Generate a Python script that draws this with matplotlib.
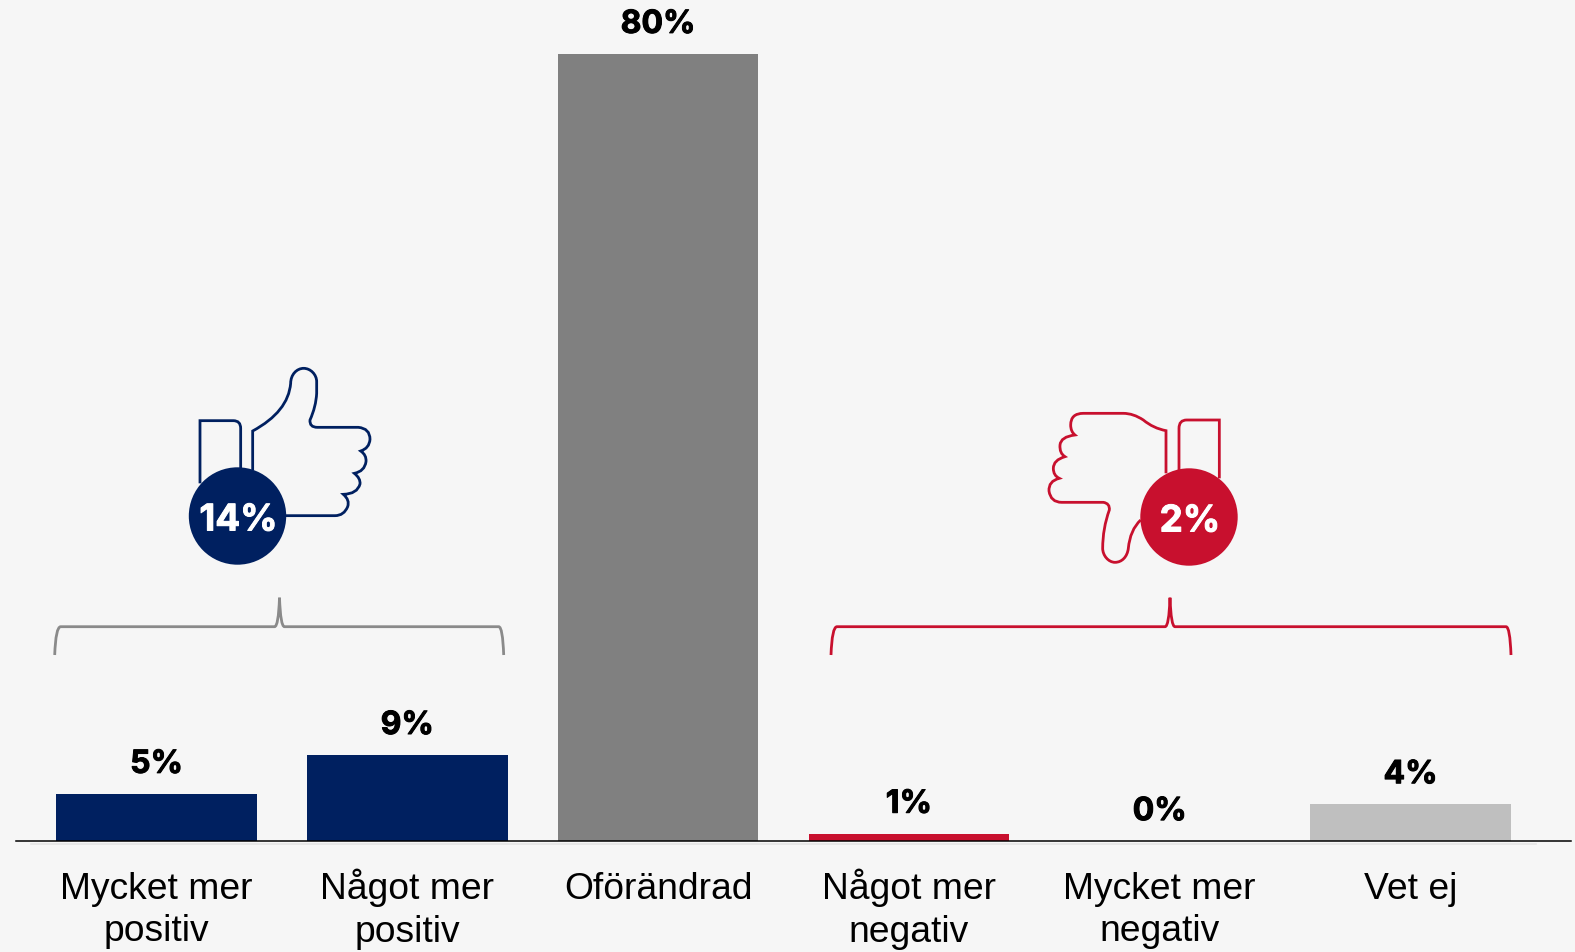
import matplotlib
matplotlib.use('Agg')
import matplotlib.pyplot as plt
import matplotlib.patheffects as pe
from matplotlib.path import Path
from matplotlib.patches import PathPatch, Circle

# Data
categories = ['Mycket mer\npositiv', 'Något mer\npositiv', 'Oförändrad',
              'Något mer\nnegativ', 'Mycket mer\nnegativ', 'Vet ej']
values = [4.8, 8.75, 80, 0.75, 0, 3.75]
value_labels = ['5%', '9%', '80%', '1%', '0%', '4%']
bar_colors = ['#002060', '#002060', '#808080', '#C8102E', '#C8102E', '#BFBFBF']
positive_total = '14%'
negative_total = '2%'

NAVY = '#002060'
RED = '#C8102E'
BG = '#F6F6F6'
W, H = 1575, 952
STEP = 250.8
FONT = ['Liberation Sans', 'DejaVu Sans']
BOLD_FONT = ['Inter', 'DejaVu Sans']

M, L, Q, B = Path.MOVETO, Path.LINETO, Path.CURVE3, Path.CURVE4


def zoomed(points, ox, oy):
    verts = [(ox + x / 3, oy + y / 3) for x, y, _ in points]
    codes = [c for _, _, c in points]
    return Path(verts, codes)


thumb_box_up = [(90, 400, M), (90, 212, L), (190, 212, L), (212, 212, Q), (212, 235, Q), (212, 355, L)]
thumb_hand_up = [(248, 360, M), (248, 243, L), (355, 185, Q), (362, 100, Q),
                 (362, 74, B), (380, 55, B), (401, 55, B), (422, 55, B), (440, 74, B), (440, 95, B),
                 (440, 130, L), (438, 170, Q), (420, 210, Q), (418, 232, Q), (442, 232, Q),
                 (565, 232, L), (600, 235, Q), (600, 268, Q), (598, 295, Q), (572, 303, Q),
                 (590, 315, Q), (588, 335, Q), (584, 364, Q), (553, 370, Q),
                 (572, 385, Q), (570, 402, Q), (562, 432, Q), (520, 433, Q),
                 (540, 450, Q), (533, 470, Q), (522, 497, Q), (495, 497, Q), (348, 497, L)]
thumb_box_down = [(447, 225, M), (447, 100, L), (447, 75, Q), (470, 75, Q), (568, 75, L), (568, 250, L)]
thumb_hand_down = [(408, 235, M), (408, 107, L), (370, 100, Q), (340, 75, Q), (310, 55, Q), (280, 55, Q),
                   (160, 55, L), (122, 55, Q), (122, 90, Q), (122, 110, Q), (135, 120, Q),
                   (92, 125, Q), (90, 150, Q), (88, 175, Q), (105, 185, Q),
                   (70, 195, Q), (70, 220, Q), (70, 242, Q), (88, 250, Q),
                   (55, 258, Q), (57, 288, Q), (62, 322, Q), (95, 322, Q),
                   (220, 322, L), (240, 325, Q), (238, 345, Q), (218, 400, Q), (218, 460, Q),
                   (218, 481, B), (235, 502, B), (255, 502, B), (276, 502, B), (292, 485, B), (295, 460, B),
                   (300, 405, Q), (332, 375, Q)]


def brace(x0, xm, x1):
    y_low, y_mid, y_top = 655, 626.7, 597.7
    return Path([(x0, y_low), (x0 + 1, y_mid), (x0 + 6, y_mid), (xm - 5, y_mid), (xm - 1, y_mid),
                 (xm, y_top), (xm + 1, y_mid), (xm + 5, y_mid), (x1 - 5, y_mid), (x1 - 1, y_mid), (x1, y_low)],
                [M, Q, Q, L, Q, Q, Q, Q, L, Q, Q])


fig = plt.figure(figsize=(W / 100, H / 100), dpi=100, facecolor=BG)

# bars fill the whole figure, limits chosen so that 0 sits on the baseline
ax = fig.add_axes([0, 0, 1, 1], facecolor=BG)
# set_position resets the ticks, so it has to come before the tick labels
ax.spines['bottom'].set_position(('data', 0))
x = list(range(len(categories)))
bars = ax.bar(x, values, width=0.8, color=bar_colors, linewidth=0)
ax.set_xlim(-156.5 / STEP, (W - 156.5) / STEP)
ax.set_ylim(-(H - 841) / 9.84, 841 / 9.84)
labels = ax.bar_label(bars, labels=value_labels, padding=10, fontsize=23, fontweight='bold',
                      family=BOLD_FONT, color='black')
for t in labels:
    # the reference digits are a bit heavier than Inter Bold
    t.set_path_effects([pe.withStroke(linewidth=0.7, foreground='black')])
ax.set_xticks(x)
ax.set_xticklabels(categories, fontsize=26.8, family=FONT, linespacing=1.29, color='black', va='top')
ax.tick_params(axis='x', length=0, pad=22)
# the ring on the å makes those labels start lower
for tick, name in zip(ax.xaxis.get_major_ticks(), categories):
    if 'å' in name:
        tick.set_pad(20)
ax.set_yticks([])
for side in ['top', 'left', 'right']:
    ax.spines[side].set_visible(False)
ax.spines['bottom'].set_bounds((16 - 156.5) / STEP, (1571 - 156.5) / STEP)
ax.spines['bottom'].set_linewidth(1.1)
ax.spines['bottom'].set_color('black')

# overlay in figure pixels for the icons and braces
over = fig.add_axes([0, 0, 1, 1])
over.set_xlim(0, W)
over.set_ylim(H, 0)
over.axis('off')
over.patch.set_alpha(0)

over.plot([31, 1536], [843.5, 843.5], color='#E4E4E4', lw=1.2, zorder=0)

for pts, ox, oy, col in [(thumb_box_up, 170, 350, NAVY), (thumb_hand_up, 170, 350, NAVY),
                         (thumb_box_down, 1030, 395, RED), (thumb_hand_down, 1030, 395, RED)]:
    over.add_patch(PathPatch(zoomed(pts, ox, oy), fill=False, edgecolor=col, lw=2.0, capstyle='butt'))

over.add_patch(PathPatch(brace(54.7, 279.5, 503.7), fill=False, edgecolor='#8A8A8A', lw=2.0))
over.add_patch(PathPatch(brace(831, 1170, 1511), fill=False, edgecolor=RED, lw=2.0))

for cx, cy, col, txt in [(237.5, 516, NAVY, positive_total), (1189, 517, RED, negative_total)]:
    over.add_patch(Circle((cx, cy), 48.7, facecolor=col, edgecolor='none', zorder=3))
    over.text(cx + 1, cy + 5, txt, color='white', fontsize=26.5, fontweight='bold', family=BOLD_FONT,
              ha='center', va='center', zorder=4,
              path_effects=[pe.withStroke(linewidth=0.7, foreground='white')])

fig.savefig('out.png', dpi=100, facecolor=BG)
